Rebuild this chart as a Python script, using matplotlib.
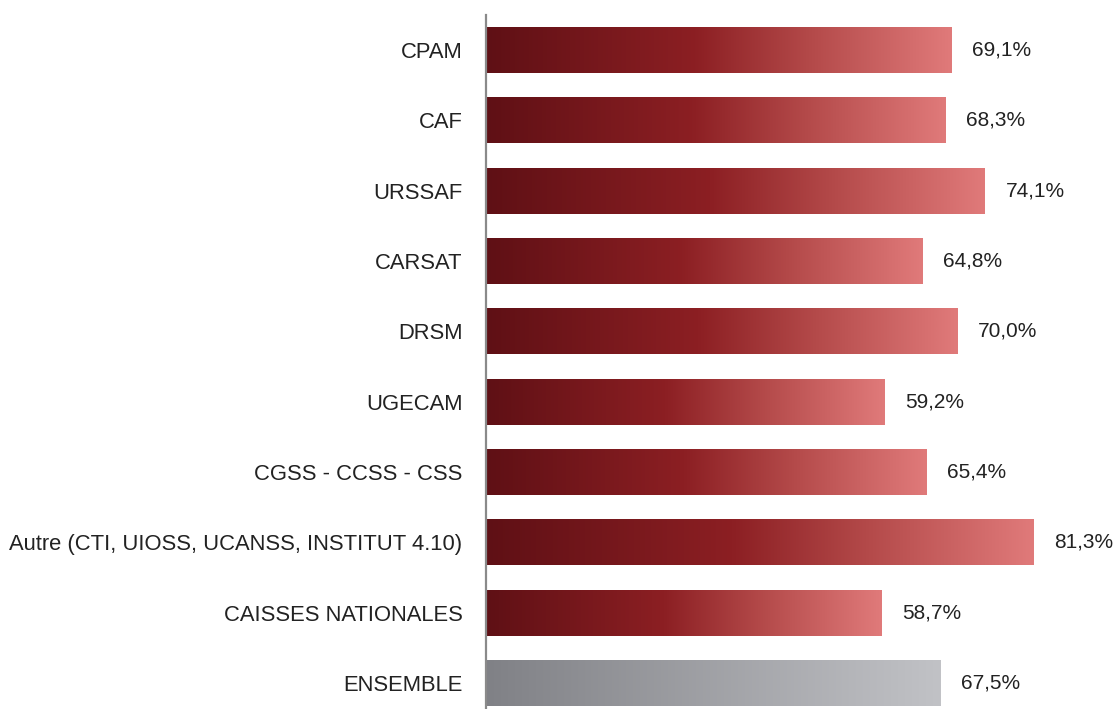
import matplotlib
matplotlib.use("Agg")
import matplotlib.pyplot as plt
import numpy as np
from matplotlib.colors import LinearSegmentedColormap

categories = ["CPAM", "CAF", "URSSAF", "CARSAT", "DRSM", "UGECAM",
              "CGSS - CCSS - CSS", "Autre (CTI, UIOSS, UCANSS, INSTITUT 4.10)",
              "CAISSES NATIONALES", "ENSEMBLE"]
values = [69.1, 68.3, 74.1, 64.8, 70.0, 59.2, 65.4, 81.3, 58.7, 67.5]
labels = ["69,1%", "68,3%", "74,1%", "64,8%", "70,0%", "59,2%", "65,4%", "81,3%", "58,7%", "67,5%"]

plt.rcParams['font.family'] = ["Liberation Sans", "DejaVu Sans"]

red_cmap = LinearSegmentedColormap.from_list("r", [(0, "#5f1015"), (0.45, "#8c1f23"), (0.7, "#b44a4a"), (1, "#e07a7a")])
gray_cmap = LinearSegmentedColormap.from_list("g", [(0, "#808186"), (1, "#c1c2c6")])

fig = plt.figure(figsize=(11.15, 7.09), dpi=100)
ax = fig.add_axes([486/1115, 0, 1 - 486/1115, (709-15)/709])

h = 0.65
grad = np.linspace(0, 1, 256).reshape(1, -1)
for i, (v, lab) in enumerate(zip(values, labels)):
    cmap = gray_cmap if categories[i] == "ENSEMBLE" else red_cmap
    ax.imshow(grad, cmap=cmap, aspect='auto', extent=(0, v, i + h/2, i - h/2), zorder=2, interpolation='bilinear')
    ax.annotate(lab, (v, i), xytext=(15, 0), textcoords='offset points',
                va='center', ha='left', fontsize=15, color='#222222')

ax.set_yticks(range(len(categories)))
ax.set_yticklabels(categories, fontsize=15.8, color='#222222')
ax.tick_params(axis='y', length=0, pad=17)
ax.set_xticks([])
for s in ['top', 'right', 'bottom']:
    ax.spines[s].set_visible(False)
ax.spines['left'].set_color('#8a8a8a')
ax.spines['left'].set_linewidth(1.6)
ax.set_ylim(9.37, -0.5)
ax.set_xlim(0, 629/6.73)

fig.savefig("out.png", dpi=100)
